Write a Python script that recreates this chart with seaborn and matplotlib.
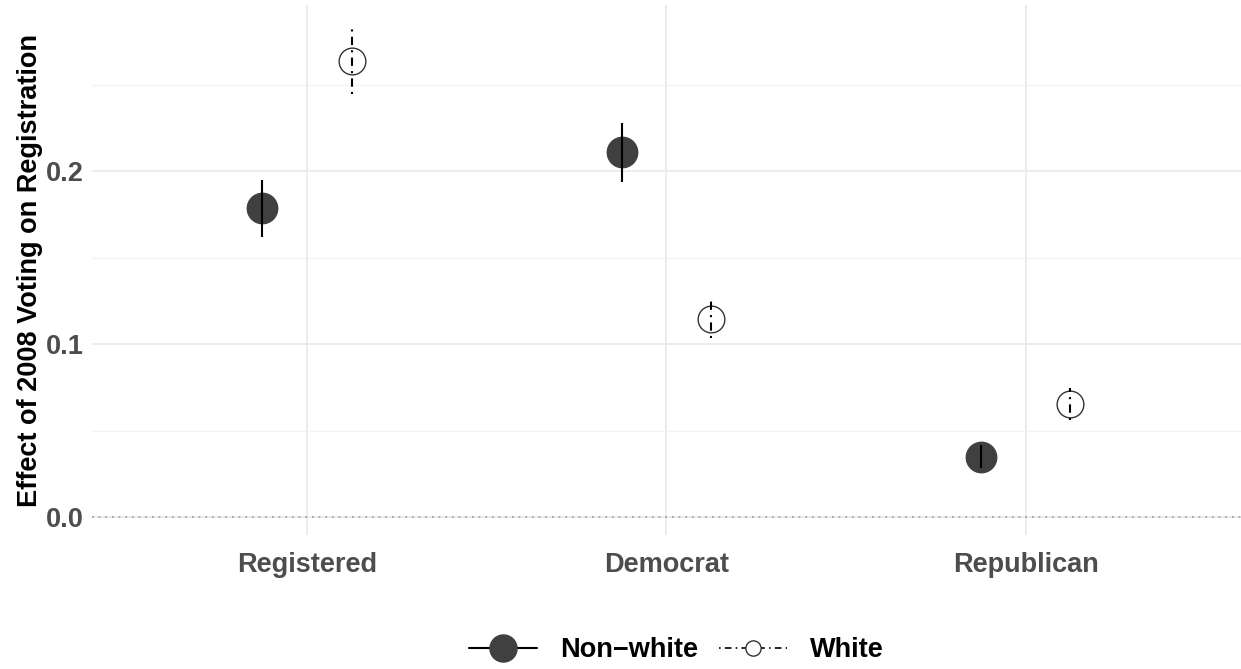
import matplotlib
matplotlib.use("Agg")
import matplotlib.pyplot as plt
from matplotlib.lines import Line2D
import seaborn as sns
import pandas as pd

# estimates
outcomes = ["Registered", "Democrat", "Republican"]
races = ["Non\u2212white", "White"]
nonwhite_est = [0.1786, 0.2110, 0.0347]
nonwhite_lo = [0.1618, 0.1936, 0.0283]
nonwhite_hi = [0.1948, 0.2277, 0.0416]
white_est = [0.2636, 0.1145, 0.0653]
white_lo = [0.2445, 0.1035, 0.0561]
white_hi = [0.2827, 0.1249, 0.0746]

df = pd.DataFrame({
    "outcome": outcomes * 2,
    "race": [races[0]] * 3 + [races[1]] * 3,
    "est": nonwhite_est + white_est,
    "lo": nonwhite_lo + white_lo,
    "hi": nonwhite_hi + white_hi,
})
df["xpos"] = df["outcome"].map({o: i for i, o in enumerate(outcomes)})
df["xpos"] = df["xpos"] + df["race"].map({races[0]: -0.125, races[1]: 0.125})

sns.set_theme(style="whitegrid")
plt.rcParams["font.family"] = ["Liberation Sans", "DejaVu Sans"]

fig = plt.figure(figsize=(12.41, 6.69), dpi=100)
ax = fig.add_axes([0.074, 0.2003, 0.926, 0.7922])

dark = "#404040"
dotdash = (0, (1, 2.5, 4, 2.5))
styles = {
    races[0]: dict(ls="-", face=dark, edge=dark, s=480),
    races[1]: dict(ls=dotdash, face="white", edge="#333333", s=370),
}

for race in races:
    sub = df[df["race"] == race]
    st = styles[race]
    sns.scatterplot(data=sub, x="xpos", y="est", ax=ax, s=st["s"], marker="o",
                    color=st["face"], edgecolor=st["edge"], linewidth=1.0,
                    zorder=3, legend=False)
    ax.vlines(sub["xpos"], sub["lo"], sub["hi"], colors="black",
              linestyles=[st["ls"]], linewidth=1.5, zorder=4)

ax.axhline(0, color="#999999", ls=(0, (1, 3)), lw=1.2, zorder=2)

ax.set_xlim(-0.6, 2.6)
ax.set_ylim(-0.0104, 0.296)
ax.set_xticks(range(len(outcomes)))
ax.set_xticklabels(outcomes)
ax.set_yticks([0.0, 0.1, 0.2])
ax.set_yticklabels(["0.0", "0.1", "0.2"])
ax.set_yticks([0.05, 0.15, 0.25], minor=True)

ax.set_facecolor("white")
for s in ax.spines.values():
    s.set_visible(False)
ax.grid(True, which="major", color="#EBEBEB", lw=1.3)
ax.grid(True, which="minor", axis="y", color="#F2F2F2", lw=0.9)
ax.grid(False, which="minor", axis="x")
ax.tick_params(axis="both", which="both", length=0)
ax.tick_params(axis="x", pad=12)
ax.tick_params(axis="y", pad=6)
for lab in ax.get_xticklabels() + ax.get_yticklabels():
    lab.set_fontsize(19.5)
    lab.set_fontweight("bold")
    lab.set_color("#4D4D4D")

ax.set_xlabel("")
ax.set_ylabel("Effect of 2008 Voting on Registration", fontsize=19.5,
              fontweight="bold", color="black", labelpad=2)

handles = [
    Line2D([0], [0], color="black", lw=1.5, ls="-", marker="o",
           markersize=19.5, markerfacecolor=dark, markeredgecolor=dark),
    Line2D([0], [0], color="black", lw=1.2, ls=dotdash,
           marker="o", markersize=11, markerfacecolor="white",
           markeredgecolor="#333333", markeredgewidth=1.0),
]
leg = fig.legend(handles, races, loc="center", bbox_to_anchor=(0.545, 0.028),
                 ncol=2, frameon=False, handlelength=2.5, columnspacing=0.8,
                 handletextpad=0.85,
                 prop={"size": 19.5, "weight": "bold"})
for t in leg.get_texts():
    t.set_color("black")

fig.savefig("out.png", dpi=100, facecolor="white")
